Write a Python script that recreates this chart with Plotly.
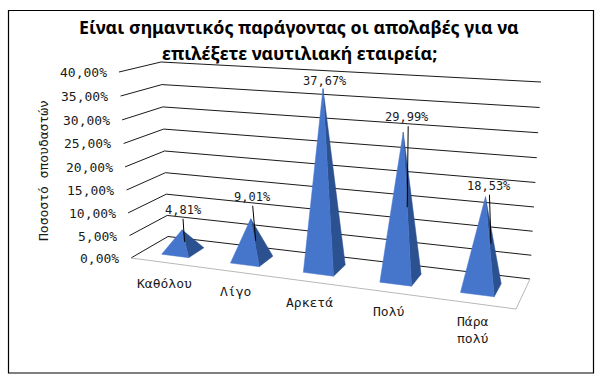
import numpy as np
import plotly.graph_objects as go

title_lines = ["Είναι σημαντικός παράγοντας οι απολαβές για να", "επιλέξετε ναυτιλιακή εταιρεία;"]
categories = ["Καθόλου", "Λίγο", "Αρκετά", "Πολύ", "Πάρα<br>πολύ"]
values = [4.81, 9.01, 37.67, 29.99, 18.53]
value_labels = ["4,81%", "9,01%", "37,67%", "29,99%", "18,53%"]
axis_values = [0, 5, 10, 15, 20, 25, 30, 35, 40]
axis_labels = ["0,00%", "5,00%", "10,00%", "15,00%", "20,00%", "25,00%", "30,00%", "35,00%", "40,00%"]
y_title = "Ποσοστό σπουδαστών"

W, H = 602, 379
VMAX = 40.0
# box corners as drawn (front-left, front-right, back-right, back-left)
FLOOR = [(131, 258), (516, 309), (530, 279), (168, 236.5)]
TOP = [(119, 72), (532, 97), (541, 82), (161, 62)]


def homography(q):
    (x0, y0), (x1, y1), (x2, y2), (x3, y3) = q
    dx1, dx2, sx = x1 - x2, x3 - x2, x0 - x1 + x2 - x3
    dy1, dy2, sy = y1 - y2, y3 - y2, y0 - y1 + y2 - y3
    d = dx1 * dy2 - dx2 * dy1
    g = (sx * dy2 - dx2 * sy) / d
    h = (dx1 * sy - sx * dy1) / d
    return np.array([[x1 - x0 + g * x1, x3 - x0 + h * x3, x0],
                     [y1 - y0 + g * y1, y3 - y0 + h * y3, y0],
                     [g, h, 1.0]])


HF, HT = homography(FLOOR), homography(TOP)


def apply(M, u, d):
    p = M @ np.array([u, d, 1.0])
    return p[:2] / p[2]


def project(cat, depth, value):
    """cat in 0..n categories, depth in 0..1, value in percent."""
    u = cat / len(categories)
    u = u + 0.016 * np.sin(np.pi * u)
    t = value / VMAX
    f = t * (0.96 + 0.04 * t)
    return (1 - f) * apply(HF, u, depth) + f * apply(HT, u, depth)


fig = go.Figure()


def poly(points, fill=None, line=None, width=1.0):
    xs = [p[0] for p in points]
    ys = [p[1] for p in points]
    fig.add_trace(go.Scatter(
        x=xs, y=ys, mode="lines", hoverinfo="skip", showlegend=False,
        fill="toself" if fill else None, fillcolor=fill,
        line=dict(color=line or fill or "black", width=width)))


n = len(categories)
# walls: gridlines along left side and back
for v in axis_values:
    poly([project(0, 0, v), project(0, 1, v), project(n, 1, v)], line="#1a1a1a", width=1.0)
# floor edges
poly([project(0, 0, 0), project(n, 0, 0), project(n, 1, 0)], line="#b8b8b8", width=1.0)

HALF = 0.20
D0, D1 = 0.28, 0.72
FRONT = "#4676CC"
SIDE = "#2C5190"
for i, v in enumerate(values):
    c = i + 0.5
    left = project(c - HALF, D0, 0)
    front = project(c + HALF, D0, 0)
    right = project(c + HALF, D1, 0)
    apex = project(c, 0.5, v)
    poly([front, right, apex, front], fill=SIDE, width=0.5)
    poly([left, front, apex, left], fill=FRONT, width=0.5)

# data labels with leader lines, positioned relative to each apex
label_dy = [-20, -22, -8, -15, -11]
label_dx = [1, 2, 2, 4, 4]
lead_top = [(1, -11), (2, -13), (2, 0), (5, -6), (4, -2)]
lead_end = [(2.5, 12), (5, 22), (2, 0), (4, 75), (5.5, 47)]
for i, v in enumerate(values):
    a = project(i + 0.5, 0.5, v)
    if lead_top[i] != lead_end[i]:
        poly([a + np.array(lead_top[i]), a + np.array(lead_end[i])], line="black", width=1.0)
    fig.add_annotation(x=a[0] + label_dx[i], y=a[1] + label_dy[i], text=value_labels[i], showarrow=False,
                       font=dict(family="DejaVu Sans Mono", size=12, color="#1a1a1a"),
                       xanchor="center", yanchor="middle")

# axis labels
for v, s in zip(axis_values, axis_labels):
    p = project(0, 0, v)
    fig.add_annotation(x=p[0] - 10.5, y=p[1] + 0.5, text=s, showarrow=False,
                       font=dict(family="DejaVu Sans Mono", size=13, color="#1a1a1a"),
                       xanchor="right", yanchor="middle")
cat_pos = [(164.5, 283), (235, 291), (309.5, 302), (388, 311), (472, 329.5)]
for s, (x, y) in zip(categories, cat_pos):
    fig.add_annotation(x=x, y=y, text=s, showarrow=False, align="center",
                       font=dict(family="DejaVu Sans Mono", size=13, color="#1a1a1a"),
                       xanchor="center", yanchor="middle")
fig.add_annotation(x=43, y=171, text=y_title, showarrow=False, textangle=-90,
                   font=dict(family="DejaVu Sans Mono", size=13, color="#1a1a1a"),
                   xanchor="center", yanchor="middle")
for s, y in zip(title_lines, [27, 53]):
    fig.add_annotation(x=299, y=y, text="<b>%s</b>" % s, showarrow=False,
                       font=dict(family="Noto Sans", size=17.8, color="black"),
                       xanchor="center", yanchor="middle")

fig.update_layout(
    width=W, height=H, margin=dict(l=0, r=0, t=0, b=0),
    paper_bgcolor="white", plot_bgcolor="white", showlegend=False,
    xaxis=dict(range=[0, W], visible=False, fixedrange=True),
    yaxis=dict(range=[H, 0], visible=False, fixedrange=True),
    shapes=[dict(type="rect", xref="x", yref="y", x0=8.5, y0=10.5, x1=593.5, y1=373,
                 line=dict(color="black", width=1.2), layer="above")],
)
fig.write_html("out.html", config={"displayModeBar": False},
               post_script="document.body.style.margin='0';document.body.style.overflow='hidden';")
